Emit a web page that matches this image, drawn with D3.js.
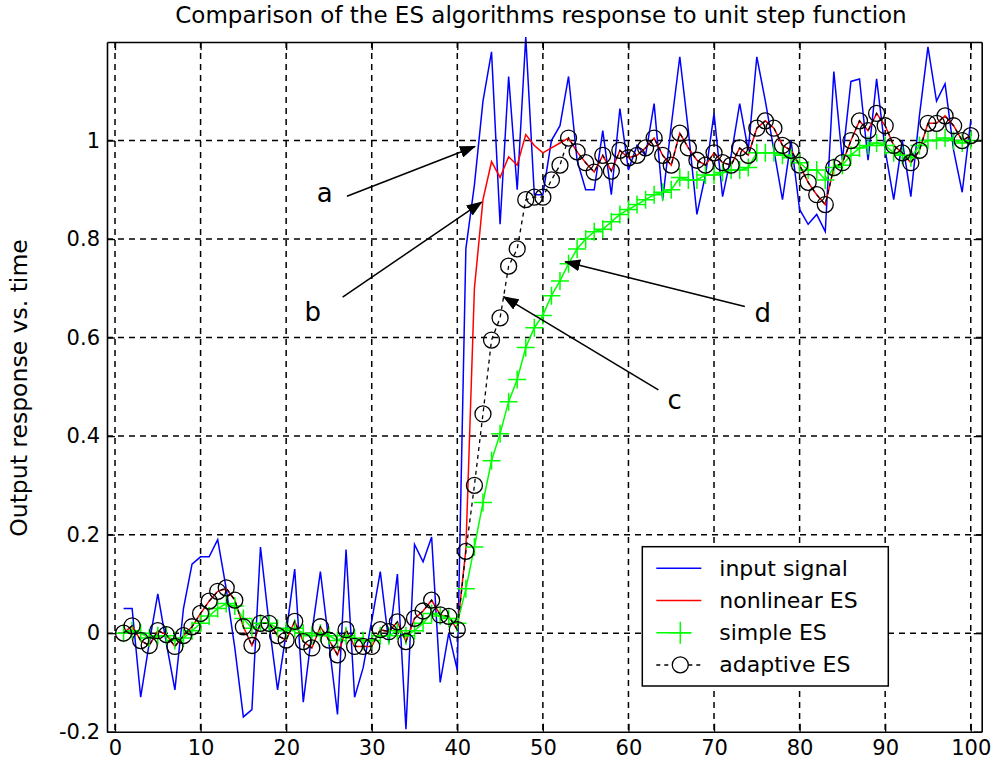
<!DOCTYPE html>
<html>
<head>
<meta charset="utf-8">
<script src="https://cdn.jsdelivr.net/npm/d3@7"></script>
<style>
body { margin: 0; background: #fff; }
text { font-family: "DejaVu Sans", Verdana, sans-serif; }
</style>
</head>
<body>
<div id="chart-area"></div>
<script>
var xTicks = [0, 10, 20, 30, 40, 50, 60, 70, 80, 90, 100];
var yTicks = [-0.2, 0, 0.2, 0.4, 0.6, 0.8, 1];
var yTickLabels = ["-0.2", "0", "0.2", "0.4", "0.6", "0.8", "1"];

var timeSteps = d3.range(1, 101);

var inputSignal = [0.05, 0.05, -0.13, -0.02, 0.08, -0.02, -0.115, 0.05, 0.14, 0.155,
    0.155, 0.19, 0.09, -0.03, -0.17, -0.155, 0.175, 0.02, -0.115, 0.0,
    0.13, -0.14, 0.0, 0.125, -0.02, -0.165, 0.17, -0.13, -0.07, 0.025,
    0.125, -0.02, 0.12, -0.195, 0.18, 0.145, 0.195, -0.1, 0.0, -0.075,
    0.78, 0.91, 1.08, 1.18, 0.83, 1.13, 0.9, 1.21, 0.89, 0.89,
    1.0, 1.03, 1.13, 0.96, 0.9, 0.9, 1.02, 0.89, 1.065, 0.94,
    0.99, 0.97, 1.075, 0.88, 1.03, 1.17, 1.02, 0.85, 0.93, 1.055,
    0.886, 0.97, 1.075, 0.98, 1.17, 1.08, 0.98, 0.88, 1.0, 0.86,
    0.83, 0.85, 0.815, 1.14, 0.96, 1.12, 1.125, 0.96, 1.125, 0.98,
    0.88, 1.0, 0.886, 1.05, 1.19, 1.08, 1.115, 0.98, 0.895, 1.04];

var nonlinearES = [0.0, 0.015, -0.015, -0.025, 0.005, -0.003, -0.027, -0.005, 0.013, 0.04,
    0.065, 0.085, 0.09, 0.067, 0.013, -0.025, 0.02, 0.02, -0.005, -0.014,
    0.024, -0.017, -0.03, 0.013, -0.014, -0.044, 0.007, -0.027, -0.027, -0.027,
    0.007, 0.003, 0.023, -0.017, 0.03, 0.045, 0.067, 0.037, 0.034, 0.007,
    0.17, 0.7, 0.88, 0.957, 0.925, 0.967, 0.95, 1.012, 0.99, 0.975,
    0.985, 0.995, 1.005, 0.977, 0.955, 0.936, 0.97, 0.938, 0.98, 0.965,
    0.97, 0.985, 1.005, 0.97, 0.95, 1.015, 0.985, 0.96, 0.95, 0.975,
    0.955, 0.95, 0.985, 0.97, 1.025, 1.04, 1.025, 0.99, 0.98, 0.95,
    0.915, 0.89, 0.87, 0.945, 0.955, 1.0, 1.04, 1.02, 1.055, 1.03,
    0.99, 0.975, 0.955, 0.98, 1.035, 1.035, 1.05, 1.03, 1.0, 1.01];

var simpleES = [0.0, 0.005, 0.0, -0.01, -0.005, -0.005, -0.015, -0.01, 0.005, 0.02,
    0.035, 0.05, 0.06, 0.055, 0.03, 0.01, 0.02, 0.02, 0.01, 0.005,
    0.01, 0.0, -0.005, 0.0, -0.005, -0.015, -0.005, -0.01, -0.015, -0.015,
    -0.005, -0.005, 0.005, -0.005, 0.005, 0.02, 0.04, 0.035, 0.03, 0.02,
    0.09, 0.175, 0.265, 0.35, 0.405, 0.47, 0.515, 0.58, 0.62, 0.645,
    0.685, 0.715, 0.75, 0.78, 0.8, 0.815, 0.82, 0.835, 0.85, 0.86,
    0.87, 0.88, 0.89, 0.895, 0.9, 0.925, 0.92, 0.92, 0.93, 0.93,
    0.935, 0.94, 0.94, 0.945, 0.975, 0.975, 0.975, 0.97, 0.965, 0.955,
    0.94, 0.94, 0.92, 0.945, 0.95, 0.97, 0.985, 0.99, 0.995, 0.99,
    0.975, 0.97, 0.965, 0.99, 1.0, 1.0, 1.005, 1.0, 0.995, 1.0];

var adaptiveES = [0.0, 0.015, -0.015, -0.025, 0.005, -0.003, -0.027, -0.005, 0.013, 0.04,
    0.065, 0.085, 0.092, 0.067, 0.013, -0.025, 0.02, 0.02, -0.005, -0.014,
    0.024, -0.017, -0.03, 0.013, -0.014, -0.044, 0.007, -0.027, -0.027, -0.027,
    0.007, 0.003, 0.023, -0.017, 0.03, 0.045, 0.067, 0.037, 0.034, 0.007,
    0.166, 0.30, 0.445, 0.595, 0.64, 0.745, 0.78, 0.88, 0.885, 0.885,
    0.92, 0.95, 1.005, 0.977, 0.955, 0.936, 0.97, 0.938, 0.98, 0.965,
    0.97, 0.985, 1.005, 0.97, 0.95, 1.015, 0.985, 0.96, 0.95, 0.975,
    0.955, 0.95, 0.985, 0.97, 1.025, 1.04, 1.025, 0.99, 0.98, 0.95,
    0.915, 0.89, 0.87, 0.945, 0.955, 1.0, 1.04, 1.02, 1.055, 1.03,
    0.99, 0.975, 0.955, 0.98, 1.035, 1.035, 1.05, 1.03, 1.0, 1.01];

var legendNames = ["input signal", "nonlinear ES", "simple ES", "adaptive ES"];

// annotation arrows in data units: label, label pos, line start, arrow tip
var annotations = [
    { label: "a", lx: 24.5, ly: 0.893, x1: 27.1, y1: 0.887, x2: 42.07, y2: 0.988 },
    { label: "b", lx: 23.1, ly: 0.652, x1: 26.6, y1: 0.682, x2: 42.85, y2: 0.875 },
    { label: "c", lx: 65.4, ly: 0.473, x1: 63.5, y1: 0.494, x2: 45.4, y2: 0.683 },
    { label: "d", lx: 75.7, ly: 0.650, x1: 73.6, y1: 0.663, x2: 52.6, y2: 0.754 }
];

var W = 993, H = 770;
var svg = d3.select("#chart-area").append("svg")
    .attr("width", W)
    .attr("height", H);

var x = d3.scaleLinear().domain([-0.935, 101.28]).range([107, 981.7]);
var y = d3.scaleLinear().domain([-0.2, 1.2]).range([731.7, 42]);

var defs = svg.append("defs");
defs.append("marker")
    .attr("id", "arrow")
    .attr("markerUnits", "userSpaceOnUse")
    .attr("viewBox", "0 0 16 12")
    .attr("refX", 15).attr("refY", 6)
    .attr("markerWidth", 16).attr("markerHeight", 12)
    .attr("orient", "auto")
    .append("path")
    .attr("d", "M0,0L16,6L0,12Z")
    .attr("fill", "#000");

// grid
var grid = svg.append("g").attr("class", "grid");
grid.selectAll("line.vx")
    .data(xTicks)
    .enter().append("line")
    .attr("class", "vx")
    .attr("x1", (d) => x(d)).attr("x2", (d) => x(d))
    .attr("y1", y(1.2)).attr("y2", y(-0.2))
    .attr("stroke", "#000").attr("stroke-width", 1.5)
    .attr("stroke-dasharray", "6,5");
grid.selectAll("line.hy")
    .data(yTicks.slice(1))
    .enter().append("line")
    .attr("class", "hy")
    .attr("x1", x.range()[0]).attr("x2", x.range()[1])
    .attr("y1", (d) => y(d)).attr("y2", (d) => y(d))
    .attr("stroke", "#000").attr("stroke-width", 1.5)
    .attr("stroke-dasharray", "6,5");

// series
var line = d3.line()
    .x((d, i) => x(timeSteps[i]))
    .y((d) => y(d));

svg.append("path").datum(inputSignal)
    .attr("d", line).attr("fill", "none")
    .attr("stroke", "#0000ff").attr("stroke-width", 1.5);

svg.append("path").datum(nonlinearES)
    .attr("d", line).attr("fill", "none")
    .attr("stroke", "#ff0000").attr("stroke-width", 1.5);

svg.append("path").datum(simpleES)
    .attr("d", line).attr("fill", "none")
    .attr("stroke", "#00ff00").attr("stroke-width", 1.5);

svg.append("g").selectAll("path")
    .data(simpleES)
    .enter().append("path")
    .attr("d", "M-9,0H9M0,-9V9")
    .attr("transform", (d, i) => "translate(" + x(timeSteps[i]) + "," + y(d) + ")")
    .attr("stroke", "#00ff00").attr("stroke-width", 1.5);

svg.append("path").datum(adaptiveES)
    .attr("d", line).attr("fill", "none")
    .attr("stroke", "#000").attr("stroke-width", 1.3)
    .attr("stroke-dasharray", "4,4");

svg.append("g").selectAll("circle")
    .data(adaptiveES)
    .enter().append("circle")
    .attr("cx", (d, i) => x(timeSteps[i]))
    .attr("cy", (d) => y(d))
    .attr("r", 8)
    .attr("fill", "none")
    .attr("stroke", "#000").attr("stroke-width", 1.3);

// axes with inward ticks on all four sides
var tickStyle = function(g, fs) {
    g.select(".domain").attr("stroke", "#000").attr("stroke-width", 1.6);
    g.selectAll(".tick line").attr("stroke", "#000").attr("stroke-width", 1.3);
    g.selectAll(".tick text")
        .attr("fill", "#000")
        .attr("font-size", fs)
        .attr("font-family", "DejaVu Sans, Verdana, sans-serif");
};

svg.append("g")
    .attr("transform", "translate(0," + y(-0.2) + ")")
    .call(d3.axisBottom(x).tickValues(xTicks).tickSizeInner(-8).tickSizeOuter(0).tickPadding(8))
    .call(tickStyle, "21px");

svg.append("g")
    .attr("transform", "translate(0," + y(1.2) + ")")
    .call(d3.axisTop(x).tickValues(xTicks).tickSizeInner(-8).tickSizeOuter(0).tickFormat(""))
    .call(tickStyle, "21px");

svg.append("g")
    .attr("transform", "translate(" + x.range()[0] + ",0)")
    .call(d3.axisLeft(y).tickValues(yTicks).tickSizeInner(-8).tickSizeOuter(0).tickPadding(7)
        .tickFormat((d, i) => yTickLabels[i]))
    .call(tickStyle, "21px");

svg.append("g")
    .attr("transform", "translate(" + x.range()[1] + ",0)")
    .call(d3.axisRight(y).tickValues(yTicks).tickSizeInner(-8).tickSizeOuter(0).tickFormat(""))
    .call(tickStyle, "21px");

// annotations
var ann = svg.append("g").attr("class", "annotations");
annotations.forEach(function(a) {
    ann.append("line")
        .attr("x1", x(a.x1)).attr("y1", y(a.y1))
        .attr("x2", x(a.x2)).attr("y2", y(a.y2))
        .attr("stroke", "#000").attr("stroke-width", 1.5)
        .attr("marker-end", "url(#arrow)");
    ann.append("text")
        .attr("x", x(a.lx)).attr("y", y(a.ly))
        .attr("text-anchor", "middle")
        .attr("dominant-baseline", "central")
        .attr("font-size", "26px")
        .text(a.label);
});

// legend
var legend = svg.append("g").attr("transform", "translate(642.3,546.7)");
legend.append("rect")
    .attr("width", 246).attr("height", 139.3)
    .attr("fill", "#fff")
    .attr("stroke", "#000").attr("stroke-width", 1.5);

var rows = legend.selectAll("g.row")
    .data(legendNames)
    .enter().append("g")
    .attr("class", "row")
    .attr("transform", (d, i) => "translate(0," + (21.6 + i * 32.2) + ")");

rows.append("text")
    .attr("x", 77).attr("y", 0)
    .attr("dominant-baseline", "central")
    .attr("font-size", "22px")
    .attr("fill", "#000")
    .text((d) => d);

var legendColors = ["#0000ff", "#ff0000", "#00ff00", "#000"];
rows.append("line")
    .attr("x1", 14).attr("x2", (d, i) => i == 2 ? 49 : 59)
    .attr("y1", 0).attr("y2", 0)
    .attr("stroke", (d, i) => legendColors[i])
    .attr("stroke-width", 1.5)
    .attr("stroke-dasharray", (d, i) => i == 3 ? "4,4" : null);

legend.append("path")
    .attr("d", "M-11,0H11M0,-11V11")
    .attr("transform", "translate(38," + (21.6 + 2 * 32.2) + ")")
    .attr("stroke", "#00ff00").attr("stroke-width", 1.5);

legend.append("circle")
    .attr("cx", 38).attr("cy", 21.6 + 3 * 32.2)
    .attr("r", 8).attr("fill", "#fff")
    .attr("stroke", "#000").attr("stroke-width", 1.3);

// title and y label
svg.append("text")
    .attr("x", 541).attr("y", 23)
    .attr("text-anchor", "middle")
    .attr("font-size", "23px")
    .attr("fill", "#000")
    .text("Comparison of the ES algorithms response to unit step function");

svg.append("text")
    .attr("transform", "translate(27,388) rotate(-90)")
    .attr("text-anchor", "middle")
    .attr("font-size", "23.5px")
    .attr("fill", "#000")
    .text("Output response vs. time");
</script>
</body>
</html>
